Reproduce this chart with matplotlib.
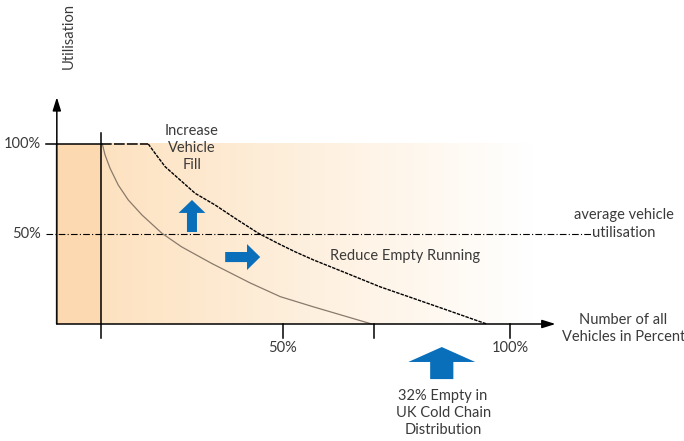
import matplotlib.pyplot as plt
import numpy as np

# Kurve 1: Ist-Auslastung (durchgezogen)
curve1_x = [10.4, 11.0, 12.1, 13.9, 16.1, 19.1, 23.5, 27.8, 34.4, 42.9, 49.5, 56.7, 64.1, 69.6]
curve1_y = [100, 93.9, 86.5, 77.2, 68.9, 60.6, 50.4, 42.9, 33.7, 22.8, 15.2, 9.6, 4.1, 0]

# Kurve 2: Ziel (gestrichelt), beginnt bei 100% Auslastung
curve2_start = 10
curve2_x = [20.5, 22.0, 24.2, 27.1, 30.8, 35.2, 39.6, 44.7, 49.3, 52.7, 56.8, 64.1, 71.4, 78.7, 86.1, 93.4, 94.9]
curve2_y = [100, 94.8, 87.4, 80.9, 72.6, 66.1, 58.7, 50.4, 44.4, 40.2, 35.6, 28.2, 20.7, 14.3, 7.8, 1.3, 0]

avg_util = 50
x_ticks = [50, 70, 100]
x_tick_labels = ["50%", "", "100%"]
y_ticks = [100, 50]
y_tick_labels = ["100%", "50%"]

text_col = "#3a3a3a"
blue = "#0a6fba"
fs = 10.5
ls_txt = 1.3
plt.rcParams['font.family'] = ['Lato', 'DejaVu Sans']

fig = plt.figure(figsize=(6.84, 4.41), dpi=100)
ax = fig.add_axes([0, 0, 1, 1])
ax.set_xlim(-12.09, 138.24)
ax.set_ylim(-65, 180)
ax.axis("off")

# Hintergrund
ax.fill_between([0, 10], 0, 100, color="#fcd9b0", lw=0, zorder=0)
grad = np.linspace(0, 1, 256)
c0 = np.array([253, 226, 192]) / 255
c1 = np.array([255, 255, 255]) / 255
img = c0[None, :] * (1 - grad[:, None]) + c1[None, :] * grad[:, None]
ax.imshow(img[None, :, :], extent=[10, 105, 0, 100], aspect="auto", zorder=0)

# Achsen
arr = dict(arrowstyle="-|>,head_length=0.8,head_width=0.25", color="black", lw=1.1, shrinkA=0, shrinkB=0)
ax.annotate("", xy=(0.4, 126), xytext=(0.4, 0), arrowprops=arr)
ax.annotate("", xy=(110, 0), xytext=(0.4, 0), arrowprops=arr)

ax.plot([-2, curve2_start], [100, 100], color="black", lw=1.1)
ax.plot([10, 10], [-8, 106], color="black", lw=1.1)
ax.plot([-2, 119], [avg_util, avg_util], color="black", lw=0.8, ls=(0, (6, 2, 1, 2)))

for xt, lab in zip(x_ticks, x_tick_labels):
    ax.plot([xt, xt], [0, -7.5], color="black", lw=1.1)
    ax.text(xt, -13.5, lab, ha="center", va="center", fontsize=fs, color=text_col)
for yt, lab in zip(y_ticks, y_tick_labels):
    ax.text(-3.2, yt, lab, ha="right", va="center", fontsize=fs, color=text_col)

ax.plot(curve1_x, curve1_y, color="#8a7a6c", lw=0.9)
ax.plot([curve2_start, curve2_x[0]], [curve2_y[0], curve2_y[0]], color="black", lw=1.1, ls=(0, (7, 1.5)))
ax.plot(curve2_x, curve2_y, color="black", lw=1.0, ls=(0, (2.5, 0.8)))

# Pfeile
ax.arrow(30.1, 51.1, 0, 17.8, width=2.2, head_width=5.9, head_length=7.2, length_includes_head=True, color=blue, lw=0)
ax.arrow(37.4, 37.2, 7.7, 0, width=5.6, head_width=14.4, head_length=2.9, length_includes_head=True, color=blue, lw=0)
ax.arrow(85, -30.6, 0, 17.8, width=5.1, head_width=14.7, head_length=8.3, length_includes_head=True, color=blue, lw=0)

# Beschriftungen
ax.text(3.1, 160, "Utilisation", rotation=90, ha="center", va="center", fontsize=fs, color=text_col)
ax.text(30.1, 97.8, "Increase\nVehicle\nFill", ha="center", va="center", fontsize=fs, color=text_col, linespacing=ls_txt)
ax.text(76.9, 37.8, "Reduce Empty Running", ha="center", va="center", fontsize=fs, color=text_col)
ax.text(125, 55.5, "average vehicle\nutilisation", ha="center", va="center", fontsize=fs, color=text_col, linespacing=ls_txt)
ax.text(124.9, -2.5, "Number of all\nVehicles in Percent", ha="center", va="center", fontsize=fs, color=text_col, linespacing=ls_txt)
ax.text(85.3, -49.5, "32% Empty in\nUK Cold Chain\nDistribution", ha="center", va="center", fontsize=fs, color=text_col, linespacing=ls_txt)

fig.savefig("out.png", dpi=100)
